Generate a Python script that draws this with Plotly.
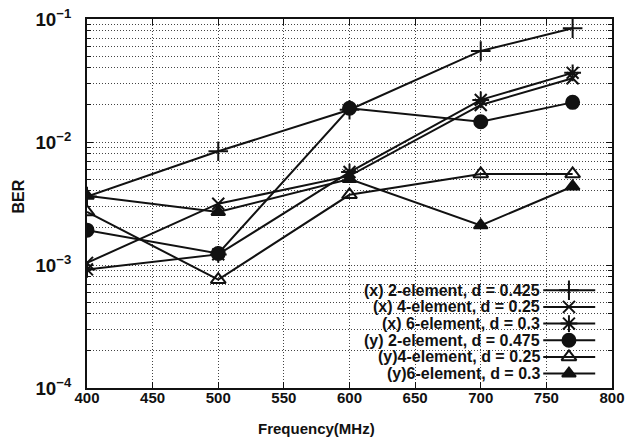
import plotly.graph_objects as go

# Measured bit error rate versus carrier frequency
freq_mhz = [400, 500, 600, 700, 770]

ber_x_2el = [3.6e-3, 8.4e-3, 1.83e-2, 5.5e-2, 8.4e-2]
ber_x_4el = [1.04e-3, 3.15e-3, 5.3e-3, 2.0e-2, 3.3e-2]
ber_x_6el = [9.2e-4, 1.22e-3, 5.7e-3, 2.2e-2, 3.65e-2]
ber_y_2el = [1.92e-3, 1.24e-3, 1.88e-2, 1.46e-2, 2.1e-2]
ber_y_4el = [2.7e-3, 7.6e-4, 3.72e-3, 5.5e-3, 5.5e-3]
ber_y_6el = [3.65e-3, 2.7e-3, 5.0e-3, 2.1e-3, 4.35e-3]

series_names = [
    "(x) 2-element, d = 0.425",
    "(x) 4-element, d = 0.25",
    "(x) 6-element, d = 0.3",
    "(y) 2-element, d = 0.475",
    "(y)4-element, d = 0.25",
    "(y)6-element, d = 0.3",
]
series_values = [ber_x_2el, ber_x_4el, ber_x_6el, ber_y_2el, ber_y_4el, ber_y_6el]
symbols = ["cross-thin-open", "x-thin-open", "asterisk-open",
           "circle", "triangle-up-open", "triangle-up"]
sizes = [14, 12, 14, 13, 13, 12]

INK = "#111111"
FONT = "Liberation Sans, Arial, Helvetica, sans-serif"

fig = go.Figure()

for name, vals, sym, sz in zip(series_names, series_values, symbols, sizes):
    fig.add_trace(go.Scatter(
        x=freq_mhz, y=vals, name=name, mode="lines+markers",
        line=dict(color=INK, width=2),
        marker=dict(symbol=sym, size=sz, color=INK,
                    line=dict(color=INK, width=2)),
        showlegend=False,
    ))

# Key drawn inside the plot: right-aligned text followed by a line sample
key_top = 0.265
key_step = 0.0452
key_text_x = 0.866
key_line = (0.869, 0.968)
key_mark_x = 0.918

shapes = [dict(type="rect", xref="paper", yref="paper",
               x0=0.397, x1=0.985, y0=0.002, y1=0.305,
               fillcolor="white", line=dict(width=0), layer="between")]
annotations = []
for i, (name, sym, sz) in enumerate(zip(series_names, symbols, sizes)):
    yk = key_top - i * key_step
    annotations.append(dict(
        x=key_text_x, y=yk, xref="paper", yref="paper", text=f"<b>{name}</b>",
        showarrow=False, xanchor="right", yanchor="middle",
        font=dict(family=FONT, size=16, color=INK),
    ))
    shapes.append(dict(type="line", xref="paper", yref="paper",
                       x0=key_line[0], x1=key_line[1], y0=yk, y1=yk,
                       line=dict(color=INK, width=2)))
    fig.add_trace(go.Scatter(
        x=[key_mark_x], y=[yk], xaxis="x2", yaxis="y2", mode="markers",
        marker=dict(symbol=sym, size=sz, color=INK,
                    line=dict(color=INK, width=2)),
        showlegend=False, hoverinfo="skip",
    ))

# Axis titles
annotations.append(dict(xref="paper", yref="paper",
                        x=(316 - 87) / 525, y=(388 - 428) / 369,
                        text="<b>Frequency(MHz)</b>", showarrow=False,
                        xanchor="center", yanchor="middle",
                        font=dict(family=FONT, size=15, color=INK)))
annotations.append(dict(xref="paper", yref="paper",
                        x=(18.5 - 87) / 525, y=(388 - 197) / 369,
                        text="<b>BER</b>", showarrow=False, textangle=-90,
                        xanchor="center", yanchor="middle",
                        font=dict(family=FONT, size=16, color=INK)))

grid = dict(gridcolor="#444444", griddash="1px,2px", gridwidth=1)
tickfont = dict(family=FONT, size=15, color=INK, weight="bold")

fig.update_layout(
    width=626, height=443,
    margin=dict(l=87, r=14, t=19, b=55),
    paper_bgcolor="white", plot_bgcolor="white",
    font=dict(family=FONT, size=15, color=INK),
    showlegend=False,
    shapes=shapes,
    annotations=annotations,
    xaxis=dict(
        range=[400, 800], dtick=50, tick0=400,
        showline=True, linecolor=INK, linewidth=1.5, mirror="ticks",
        ticks="inside", ticklen=6, tickwidth=1, tickcolor=INK,
        ticklabelposition="outside", ticklabelstandoff=-5,
        zeroline=False, showgrid=True, **grid,
        tickfont=tickfont, automargin=False,
    ),
    yaxis=dict(
        type="log", range=[-4, -1], dtick=1, exponentformat="power",
        showline=True, linecolor=INK, linewidth=1.5, mirror="ticks",
        ticks="inside", ticklen=6, tickwidth=1, tickcolor=INK,
        ticklabelstandoff=11, zeroline=False, showgrid=True, **grid,
        minor=dict(ticks="inside", ticklen=4, tickcolor=INK,
                   showgrid=True, **grid),
        tickfont=tickfont, automargin=False,
    ),
    xaxis2=dict(overlaying="x", range=[0, 1], visible=False),
    yaxis2=dict(overlaying="y", range=[0, 1], visible=False),
)

fig.write_html("out.html")
